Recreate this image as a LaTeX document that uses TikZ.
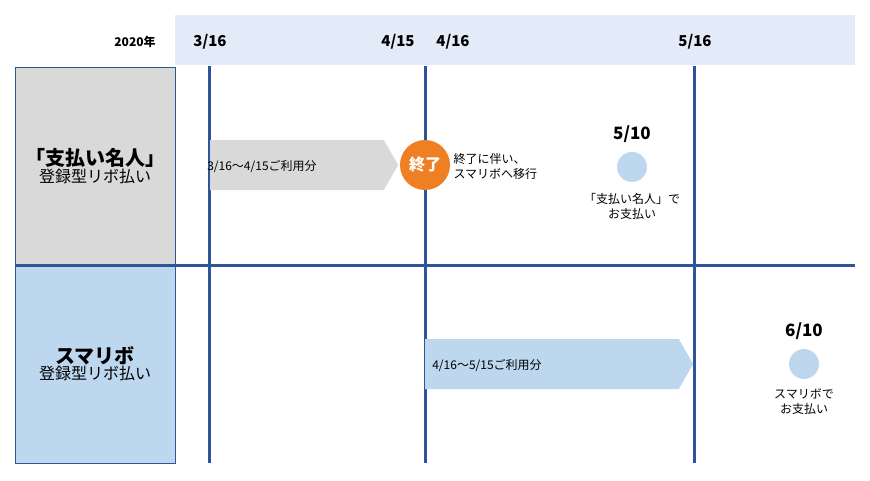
\documentclass[tikz,border=0pt]{standalone}
\usepackage{fontspec}
\setmainfont{Noto Sans CJK JP}
\usetikzlibrary{shapes.arrows}
\definecolor{bandblue}{HTML}{E3EBF8}
\definecolor{boxgray}{HTML}{D9D9D9}
\definecolor{boxblue}{HTML}{BDD7EE}
\definecolor{linecol}{HTML}{2F5597}
\definecolor{endorange}{HTML}{EE7F22}
\tikzset{
    x=1pt, y=-1pt,
    datelabel/.style={font=\fontsize{15}{18}\selectfont\bfseries},
    smalltext/.style={font=\fontsize{12}{15}\selectfont, align=center},
    rowbox/.style={draw=linecol, line width=0.6pt, align=center, minimum width=160pt, minimum height=198pt, inner sep=0pt},
    timeline/.style={draw=linecol, line width=3pt},
    period/.style={single arrow, single arrow head extend=0pt, single arrow tip angle=120,
        minimum height=#1, minimum width=50pt, inner sep=0pt, anchor=west, text depth=0pt,
        font=\fontsize{12}{15}\selectfont},
    payday/.style={circle, fill=boxblue, minimum size=30pt, inner sep=0pt}
}
\begin{document}
\begin{tikzpicture}
    \useasboundingbox (0,0) rectangle (870,480);
    % header band
    \fill[bandblue] (175,15) rectangle (855,65);
    \node[font=\fontsize{12}{14}\selectfont\bfseries] (year) at (135,42) {2020年};
    \node[datelabel] (d1) at (210,42) {3/16};
    \node[datelabel] (d2) at (398,42) {4/15};
    \node[datelabel] (d3) at (453,42) {4/16};
    \node[datelabel] (d4) at (695,42) {5/16};
    % rows
    \node[rowbox, fill=boxgray] (rowa) at (95,166) {{\fontsize{20}{26}\selectfont\bfseries 「支払い名人」}\\{\fontsize{16}{22}\selectfont 登録型リボ払い}};
    \node[rowbox, fill=boxblue] (rowb) at (95,364) {{\fontsize{20}{26}\selectfont\bfseries スマリボ}\\{\fontsize{16}{22}\selectfont 登録型リボ払い}};
    \coordinate (hl) at (15,265);
    \coordinate (hr) at (855,265);
    \draw[timeline] (hl) -- (hr);
    % time lines
    \foreach \name/\xx in {ta/209, tb/425, tc/694} {
        \coordinate (\name top) at (\xx,66);
        \coordinate (\name bot) at (\xx,463);
        \draw[timeline] (\name top) -- (\name bot);
    }
    % periods
    \node[period=188pt, fill=boxgray] (pa) at (210,165) {\hspace*{-70pt}3/16〜4/15ご利用分};
    \node[period=268pt, fill=boxblue] (pb) at (425,364) {\hspace*{-130pt}4/16〜5/15ご利用分};
    % end mark
    \node[circle, fill=endorange, minimum size=50pt, inner sep=0pt, text=white,
        font=\fontsize{16}{18}\selectfont\bfseries] (end) at (425,165) {終了};
    \node[smalltext, align=left, anchor=west] (move) at (450,166) {終了に伴い、\\スマリボへ移行};
    % payments
    \node[datelabel, font=\fontsize{17}{20}\selectfont\bfseries] (p1) at (632,134) {5/10};
    \node[payday] (c1) at (632,167) {};
    \node[smalltext] (t1) at (632,206) {「支払い名人」で\\お支払い};
    \node[datelabel, font=\fontsize{17}{20}\selectfont\bfseries] (p2) at (804,331) {6/10};
    \node[payday] (c2) at (804,364) {};
    \node[smalltext] (t2) at (804,402) {スマリボで\\お支払い};
\end{tikzpicture}
\end{document}
